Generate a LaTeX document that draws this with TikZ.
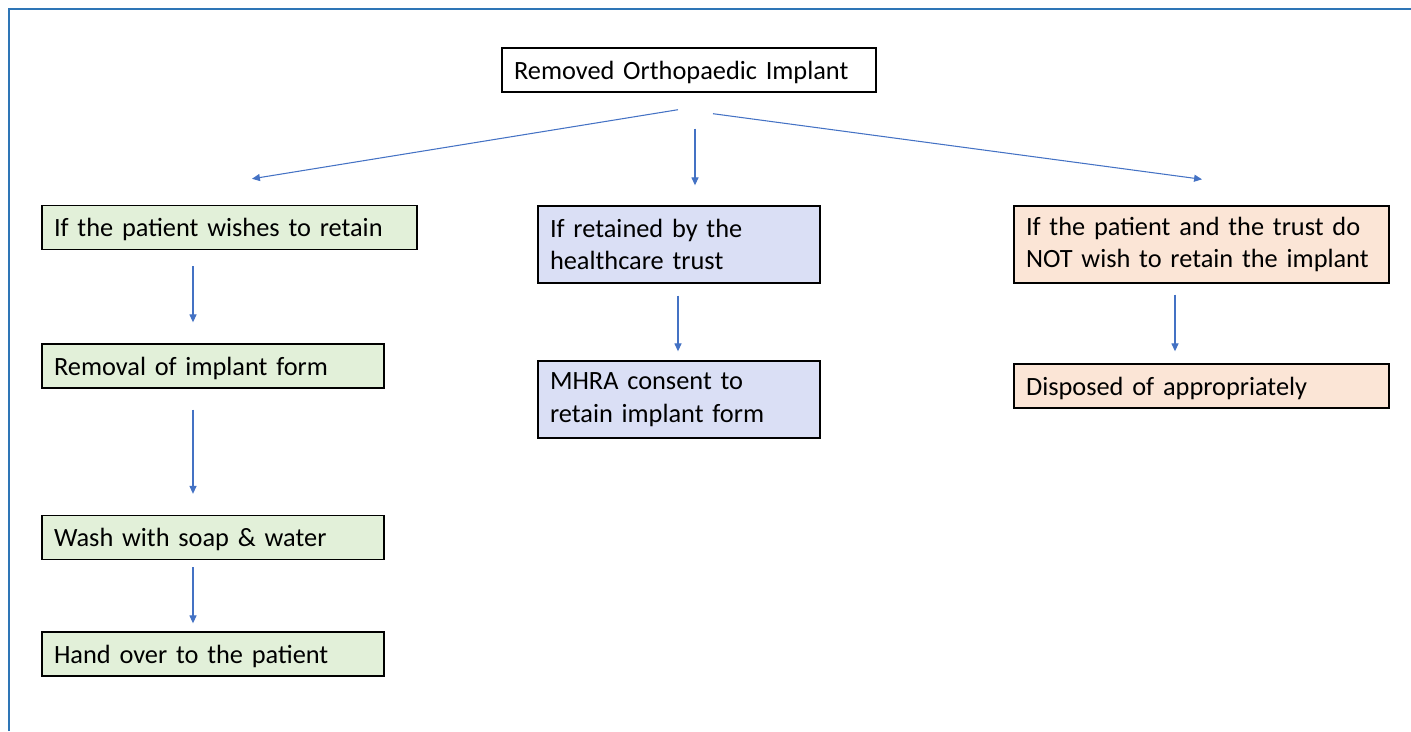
\documentclass[tikz,border=0pt]{standalone}
\usepackage{fontspec}
\setmainfont{Carlito}
\usepackage{xcolor}
\usepackage{tikz}
\usetikzlibrary{positioning,arrows.meta,calc}
\definecolor{FrameBlue}{HTML}{2E75B6}
\definecolor{ArrowBlue}{HTML}{4472C4}
\definecolor{KeepGreen}{HTML}{E2F0D9}
\definecolor{TrustBlue}{HTML}{DADFF5}
\definecolor{DisposeOrange}{HTML}{FBE5D6}

\begin{document}
\begin{tikzpicture}[x=0.02cm,y=-0.02cm,
    every node/.style={font=\fontsize{15}{18.7}\selectfont},
    cell/.style={draw=black, line width=0.8pt, inner xsep=0.24cm, inner ysep=0pt,
                 align=left, text=black},
    oneline/.style={cell, minimum height=0.88cm, text depth=0pt},
    twoline/.style={cell, minimum height=1.54cm},
    ar/.style={-{Triangle[width=4pt,length=4.5pt]},line width=0.6pt,ArrowBlue}]
  \useasboundingbox (0,0) rectangle (1411,731);
  % frame lines
  \draw[FrameBlue, line width=1pt] (9,731) -- (9,9) -- (1411,9);

  \node[oneline, fill=white, text width=7.0cm]
    (top) at (689,70) {Removed Orthopaedic Implant};

  % patient keeps implant
  \node[oneline, fill=KeepGreen, text width=7.02cm]
    (l1) at (229.5,227.5) {If the patient wishes to retain};
  \node[oneline, fill=KeepGreen, text width=6.36cm]
    (l2) at (213,366) {Removal of implant form};
  \node[oneline, fill=KeepGreen, text width=6.36cm]
    (l3) at (213,537.5) {Wash with soap \& water};
  \node[oneline, fill=KeepGreen, text width=6.36cm]
    (l4) at (213,654) {Hand over to the patient};

  % trust keeps implant
  \node[twoline, fill=TrustBlue, text width=5.16cm]
    (m1) at (679,244.5) {If retained by the\\healthcare trust};
  \node[twoline, fill=TrustBlue, text width=5.16cm]
    (m2) at (679,399.5) {MHRA consent to\\retain implant form};

  % nobody keeps implant
  \node[twoline, fill=DisposeOrange, text width=7.02cm]
    (r1) at (1201.5,244.5) {If the patient and the trust do\\NOT wish to retain the implant};
  \node[oneline, fill=DisposeOrange, text width=7.02cm]
    (r2) at (1201.5,386) {Disposed of appropriately};

  \draw[ar] ($(top.south)+(-11,17)$) -- ($(l1.north)+(22.5,-26)$);
  \draw[ar] ($(top.south)+(6,36)$)   -- ($(m1.north)+(16,-20)$);
  \draw[ar] ($(top.south)+(24,21)$)  -- ($(r1.north)+(0.5,-26)$);

  \draw[ar] ($(l1.south)+(-36.5,16)$) -- ($(l2.north)+(-20,-21)$);
  \draw[ar] ($(l2.south)+(-20,21)$)   -- ($(l3.north)+(-20,-21)$);
  \draw[ar] ($(l3.south)+(-20,7)$)    -- ($(l4.north)+(-20,-8)$);

  \draw[ar] ($(m1.south)+(-1,12)$)    -- ($(m2.north)+(-1,-9)$);
  \draw[ar] ($(r1.south)+(-26.5,11)$) -- ($(r2.north)+(-26.5,-12)$);
\end{tikzpicture}
\end{document}
